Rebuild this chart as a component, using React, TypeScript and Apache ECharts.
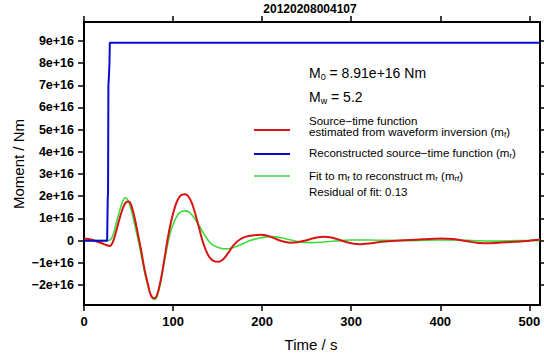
import React, { useEffect, useRef } from "react";
import * as echarts from "echarts";

// Moments in units of 1e16 Nm, time in seconds
const title = "20120208004107";
const xTicks = [0, 100, 200, 300, 400, 500];
const yTicks = [-2, -1, 0, 1, 2, 3, 4, 5, 6, 7, 8, 9];

const blueT = [0, 26, 26.6, 27, 27.4, 28, 28.6, 29, 512];
const blueM = [0, 0, 1.8, 2.2, 7.0, 7.4, 8.0, 8.91, 8.91];

const redT = [0, 5, 10, 15, 20, 25, 29, 32, 36, 40, 44, 47, 50, 53, 57, 61, 64, 68, 72, 75, 79, 82, 86, 90, 94, 98, 102, 106, 110, 113.5, 117, 121, 125, 129, 133, 137, 141, 146, 151, 156, 162, 168, 175, 182, 190, 198, 206, 214, 222, 231, 240, 250, 260, 269, 278, 288, 298, 310, 322, 335, 350, 365, 380, 400, 415, 430, 449, 465, 480, 490, 500, 507, 512];
const redM = [0.1, 0.07, 0.03, -0.05, -0.12, -0.2, -0.24, -0.1, 0.4, 1.0, 1.5, 1.72, 1.76, 1.6, 1.0, 0.2, -0.4, -1.3, -2.0, -2.45, -2.6, -2.45, -1.8, -0.9, 0.1, 0.9, 1.5, 1.9, 2.07, 2.09, 2.0, 1.7, 1.2, 0.6, 0.0, -0.45, -0.75, -0.92, -0.95, -0.85, -0.55, -0.2, 0.05, 0.18, 0.24, 0.26, 0.22, 0.1, -0.02, -0.09, -0.07, 0.02, 0.13, 0.18, 0.14, 0.02, -0.1, -0.16, -0.12, -0.05, 0.0, 0.03, 0.06, 0.1, 0.07, -0.03, -0.12, -0.1, -0.06, -0.04, 0.0, 0.03, 0.04];

const greenT = [0, 27, 30, 33, 36, 39, 42, 44, 46, 48, 50, 53, 57, 61, 65, 69, 73, 76, 79, 82, 86, 90, 94, 98, 103, 108, 114, 119, 125, 131, 137, 143, 150, 158, 166, 175, 185, 195, 204, 211, 220, 230, 240, 254, 268, 282, 299, 320, 340, 370, 400, 430, 460, 490, 512];
const greenM = [0, 0, 0.05, 0.3, 0.75, 1.2, 1.62, 1.82, 1.93, 1.9, 1.76, 1.4, 0.7, 0.0, -0.8, -1.6, -2.2, -2.55, -2.65, -2.5, -1.9, -1.0, -0.15, 0.5, 1.0, 1.28, 1.34, 1.25, 0.95, 0.55, 0.15, -0.15, -0.3, -0.37, -0.33, -0.2, -0.02, 0.1, 0.16, 0.18, 0.14, 0.05, -0.04, -0.09, -0.07, -0.02, 0.03, 0.03, 0.01, 0.0, 0.03, 0.01, -0.02, 0, 0];

const pairs = (t: number[], m: number[]) => t.map((v, i) => [v, m[i]]);

const FONT = "Liberation Sans";

export default function App() {
  const ref = useRef<HTMLDivElement>(null);
  useEffect(() => {
    if (!ref.current) return;
    const chart = echarts.init(ref.current, null, { renderer: "svg" });
    const fmtY = (v: number) => (v === 0 ? "0" : (v < 0 ? "\u2212" : "") + Math.abs(v) + "e+16");
    const small = { fontFamily: FONT, fontSize: 11.5, fill: "#000" };
    const legendLine = (y: number, color: string, w: number) => ({
      type: "line",
      shape: { x1: 254, y1: y, x2: 290, y2: y },
      style: { stroke: color, lineWidth: w },
    });
    const richBase = {
      n: { fontFamily: FONT, fontSize: 11.5, lineHeight: 13, fill: "#000" },
      s: { fontFamily: FONT, fontSize: 8, lineHeight: 13, verticalAlign: "bottom", fill: "#000" },
    };
    const richBig = {
      n: { fontFamily: FONT, fontSize: 14, lineHeight: 17, fill: "#000" },
      s: { fontFamily: FONT, fontSize: 9, lineHeight: 17, verticalAlign: "bottom", fill: "#000" },
    };
    const axisCommon = (pos: string) => ({
      position: pos,
      axisLine: { show: true, onZero: false, lineStyle: { color: "#000", width: 2 } },
      splitLine: { show: false },
    });
    chart.setOption({
      animation: false,
      grid: { left: 84, right: 4, top: 22, bottom: 48 },
      xAxis: [
        {
          type: "value", min: 0, max: 512, ...axisCommon("bottom"),
          axisTick: { show: true, length: 6, customValues: xTicks, lineStyle: { color: "#000", width: 1.5 } },
          axisLabel: { customValues: xTicks, margin: 10, fontFamily: FONT, fontWeight: "bold", fontSize: 13, color: "#000" },
        },
        {
          type: "value", min: 0, max: 512, ...axisCommon("top"),
          axisTick: { show: true, length: 6, customValues: xTicks, lineStyle: { color: "#000", width: 1.5 } },
          axisLabel: { show: false },
        },
      ],
      yAxis: [
        {
          type: "value", min: -2.9, max: 9.85, ...axisCommon("left"),
          axisTick: { show: true, length: 6, customValues: yTicks, lineStyle: { color: "#000", width: 1.5 } },
          axisLabel: { customValues: yTicks, formatter: fmtY, margin: 10, fontFamily: FONT, fontWeight: "bold", fontSize: 12.5, color: "#000" },
        },
        {
          type: "value", min: -2.9, max: 9.85, ...axisCommon("right"),
          axisTick: { show: true, length: 6, customValues: yTicks, lineStyle: { color: "#000", width: 1.5 } },
          axisLabel: { show: false },
        },
      ],
      series: [
        { type: "line", data: pairs(greenT, greenM), smooth: 0.4, showSymbol: false, lineStyle: { color: "#3ddc3d", width: 1.6 }, z: 2 },
        { type: "line", data: pairs(redT, redM), smooth: 0.4, showSymbol: false, lineStyle: { color: "#d81414", width: 2 }, z: 3 },
        { type: "line", data: pairs(blueT, blueM), showSymbol: false, lineStyle: { color: "#0a0ad0", width: 2 }, z: 4 },
      ],
      graphic: [
        { type: "text", x: 310, y: 9, style: { text: title, fontFamily: FONT, fontWeight: "bold", fontSize: 12, fill: "#000", align: "center", verticalAlign: "middle" } },
        { type: "text", x: 18, y: 164, rotation: Math.PI / 2, style: { text: "Moment / Nm", fontFamily: FONT, fontSize: 15, fill: "#000", align: "center", verticalAlign: "middle" } },
        { type: "text", x: 311, y: 344, style: { text: "Time / s", fontFamily: FONT, fontSize: 15, fill: "#000", align: "center", verticalAlign: "middle" } },
        { type: "text", x: 309, y: 73, style: { text: "{n|M}{s|0}{n| = 8.91e+16 Nm}", verticalAlign: "middle", rich: richBig } },
        { type: "text", x: 309, y: 97, style: { text: "{n|M}{s|w}{n| = 5.2}", verticalAlign: "middle", rich: richBig } },
        legendLine(130, "#d81414", 2),
        legendLine(154, "#0a0ad0", 2),
        legendLine(176, "#3ddc3d", 1.5),
        { type: "text", x: 309, y: 121, style: { ...small, text: "Source\u2212time function", verticalAlign: "middle" } },
        { type: "text", x: 309, y: 132, style: { text: "{n|estimated from waveform inversion (m}{s|f}{n|)}", verticalAlign: "middle", rich: richBase } },
        { type: "text", x: 309, y: 153, style: { text: "{n|Reconstructed source\u2212time function (m}{s|r}{n|)}", verticalAlign: "middle", rich: richBase } },
        { type: "text", x: 309, y: 176, style: { text: "{n|Fit to m}{s|f}{n| to reconstruct m}{s|r}{n| (m}{s|rf}{n|)}", verticalAlign: "middle", rich: richBase } },
        { type: "text", x: 309, y: 192, style: { ...small, text: "Residual of fit: 0.13", verticalAlign: "middle" } },
      ],
    });
    return () => chart.dispose();
  }, []);
  return <div ref={ref} style={{ width: 544, height: 353, position: "absolute", left: 0, top: 0 }} />;
}
